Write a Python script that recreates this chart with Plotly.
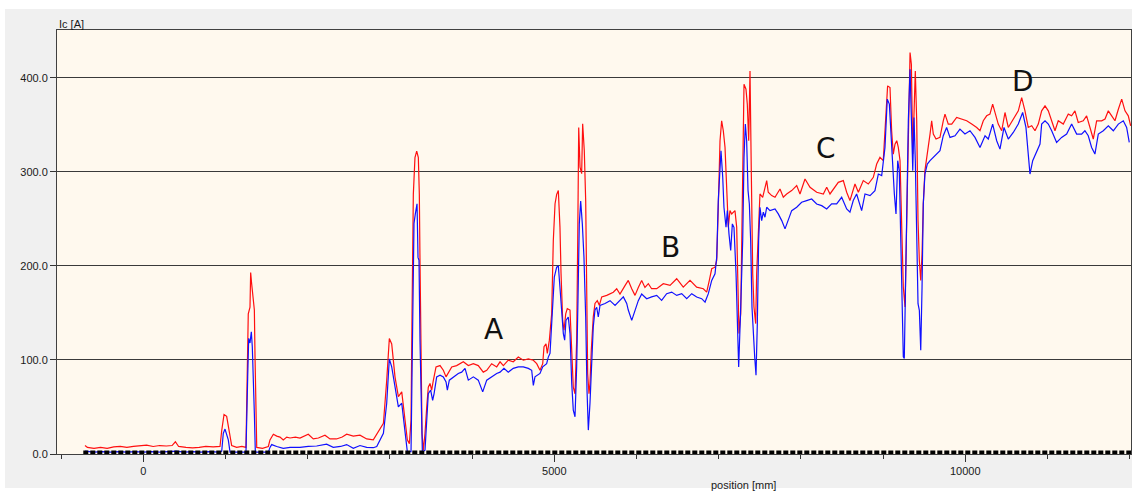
import plotly.graph_objects as go

# ---------------- data ----------------
red_pos = [-709, -680, -600, -520, -440, -360, -280, -200, -120, -40, 40, 120, 200, 280, 350, 390, 430, 520, 600, 680, 760, 850, 933,
           954, 982, 1014, 1046, 1075, 1136, 1200, 1249,
           1266, 1277, 1298, 1306, 1318, 1331, 1351, 1359, 1371, 1380,
           1450, 1521, 1541, 1582, 1623, 1663, 1703, 1745, 1785, 1850, 1906, 1960, 2007, 2068, 2130, 2210, 2271, 2350, 2420, 2474,
           2555, 2636, 2718, 2798, 2850, 2900, 2921, 2961, 2993, 3022, 3062, 3103, 3144, 3184, 3212, 3237, 3257, 3269, 3285, 3305,
           3326, 3346, 3358, 3366, 3378, 3391, 3407, 3427, 3448, 3467, 3488, 3508, 3528, 3561, 3610, 3650, 3683, 3711, 3752, 3812,
           3853, 3893, 3954, 4015, 4075, 4136, 4178, 4238, 4299, 4340, 4380, 4440, 4501, 4562, 4623, 4684, 4745, 4786, 4826, 4859,
           4875, 4899, 4915, 4940, 4968, 4988, 5009, 5029, 5049, 5069, 5082, 5102, 5118, 5139, 5158, 5191, 5212, 5231, 5252, 5272,
           5285, 5297, 5313, 5333, 5345, 5365, 5382, 5394, 5406, 5422, 5434, 5450, 5474, 5495, 5523, 5548, 5577, 5638, 5718, 5759,
           5799, 5860, 5900, 5942, 5982, 6022, 6063, 6103, 6144, 6184, 6246, 6326, 6408, 6489, 6569, 6651, 6732, 6813, 6854, 6886,
           6915, 6955, 6976, 6995, 7016, 7036, 7056, 7077, 7097, 7117, 7137, 7158, 7198, 7219, 7231, 7247, 7268, 7287, 7308, 7332,
           7348, 7365, 7381, 7397, 7414, 7429, 7450, 7462, 7482, 7502, 7535, 7563, 7584, 7603, 7645, 7685, 7746, 7786, 7827, 7888,
           7949, 7989, 8050, 8111, 8192, 8273, 8314, 8354, 8415, 8455, 8516, 8557, 8597, 8658, 8699, 8759, 8820, 8881, 8922, 8962,
           9002, 9035, 9055, 9084, 9104, 9124, 9145, 9166, 9185, 9206, 9226, 9246, 9267, 9287, 9307, 9328, 9344, 9361, 9376, 9392,
           9409, 9425, 9441, 9458, 9474, 9489, 9509, 9538, 9571, 9591, 9611, 9644, 9692, 9732, 9753, 9793, 9835, 9895, 9956, 10017,
           10078, 10139, 10179, 10219, 10260, 10300, 10333, 10361, 10401, 10443, 10483, 10523, 10584, 10645, 10686, 10726, 10766,
           10808, 10848, 10888, 10929, 10970, 11010, 11051, 11091, 11131, 11192, 11253, 11294, 11334, 11374, 11435, 11476, 11517,
           11557, 11598, 11659, 11700, 11740, 11781, 11821, 11862, 11903, 11943, 11983, 12012]
red_ic = [9, 7, 6, 7, 6, 7.5, 8, 7, 8, 9, 9.5, 8, 9, 8.5, 9, 13, 8, 7, 6.5, 7, 8, 7.5, 8,
          25, 42, 40, 25, 9, 7, 8, 7,
          86, 149, 156, 193, 181, 170, 153, 103, 43, 7,
          6, 8, 15, 21, 19, 18, 15, 18, 17, 18, 17, 19, 21, 16, 17, 20, 16, 16, 18, 21,
          19, 20, 16, 15, 22, 29, 32.5, 78, 122.7, 117, 82, 61, 66, 36, 15, 11, 36, 146, 276, 315,
          322, 315, 276, 206, 121, 22, 4, 22, 50, 71, 75, 68, 78, 92.6, 94, 89, 82, 87, 92.6, 94,
          96, 98, 94, 96, 94, 87, 89, 96, 92.6, 98, 94, 99.7, 98, 103, 99.7, 101, 99.7, 96, 89, 96,
          114, 117, 107, 121, 149, 227, 266, 276, 280, 241, 192, 142, 131.5, 149, 154.5, 153, 110, 71, 64, 121,
          227, 347, 305, 298, 351, 322, 269, 181, 85.6, 64, 75, 110, 145.6, 160, 163, 158, 167, 168.6, 172, 175.7,
          170, 179, 184.5, 175.7, 168.6, 177, 184.5, 177, 181, 175.7, 175.7, 181, 179.2, 186.3, 177.4, 184.5, 177.4, 175.7, 172.1, 184.5,
          196.9, 198.6, 205.7, 262.3, 333, 354.2, 343.6, 325.9, 272.9, 241, 258.7, 255.2, 258.7, 241, 191.6, 128, 149.2, 262.3, 393.1, 387.8,
          371.9, 333, 407.2, 297.6, 191.6, 156.2, 138.6, 191.6, 241, 276.4, 272.9, 283.5, 290.6, 278.2, 274.7, 272.9, 281.7, 272.9, 276.4, 280,
          285.3, 276.4, 292.3, 283.5, 278.2, 276.4, 283.5, 276.4, 283.5, 288.8, 290.6, 278.2, 269.4, 287, 278.2, 290.6, 287, 294.1, 308.2, 315.3,
          311.8, 357.7, 391.3, 389.5, 343.6, 318.8, 329.4, 333, 325.9, 311.8, 237.5, 177.4, 156.2, 248.1, 354.2, 426.7, 414.3, 318.8, 361.3, 407.2,
          354.2, 248.1, 205.7, 184.5, 212.8, 265.8, 301.2, 322.4, 340.1, 354.2, 340.1, 334.8, 336.5, 354.2, 361.3, 350.7, 350.7, 357.7, 356, 354.2,
          350.7, 347.1, 343.6, 354.2, 359.5, 361.3, 371.9, 363, 350.7, 343.6, 363, 347.1, 356, 364.8, 378.9, 364.8, 347.1,
          348.9, 343.6, 350.7, 364.8, 370.1, 364.8, 354.2, 343.6, 354.2, 350.7, 361.3, 359.5, 364.8, 352.4, 354.2, 359.5, 347.1,
          334.8, 354.2, 354.2, 356, 364.8, 359.5, 354.2, 366.5, 377.2, 364.8, 359.5, 348.9]

blue_pos = [-709, -600, -500, -400, -300, -200, -100, 0, 100, 200, 300, 400, 500, 600, 700, 800, 933,
            954, 973, 994, 1034, 1055, 1136, 1249,
            1270, 1282, 1298, 1314, 1326, 1339, 1351, 1363,
            1450, 1521, 1541, 1562, 1623, 1703, 1785, 1906, 2007, 2109, 2230, 2311, 2400, 2474, 2555, 2636, 2718, 2798, 2840,
            2880, 2921, 2961, 2993, 3022, 3062, 3103, 3144, 3184, 3212, 3257, 3277, 3293, 3309, 3330, 3342, 3354, 3366, 3383,
            3395, 3427, 3448, 3467, 3496, 3520, 3537, 3569, 3610, 3650, 3683, 3699, 3723, 3771, 3832, 3873, 3914, 3954, 4015,
            4075, 4129, 4178, 4238, 4299, 4340, 4388, 4440, 4501, 4562, 4623, 4684, 4725, 4745, 4765, 4826, 4859, 4907, 4927,
            4948, 4980, 5000, 5029, 5049, 5069, 5090, 5110, 5126, 5142, 5170, 5191, 5212, 5231, 5252, 5272, 5288, 5304, 5321,
            5341, 5361, 5382, 5398, 5414, 5434, 5455, 5474, 5495, 5516, 5535, 5556, 5617, 5678, 5739, 5799, 5840, 5881, 5900,
            5942, 5982, 6022, 6063, 6124, 6184, 6246, 6306, 6367, 6428, 6489, 6550, 6611, 6672, 6732, 6793, 6834, 6874, 6915,
            6955, 6976, 6995, 7016, 7028, 7049, 7064, 7089, 7105, 7125, 7146, 7166, 7186, 7211, 7227, 7243, 7268, 7292, 7308,
            7324, 7340, 7357, 7373, 7389, 7405, 7421, 7438, 7454, 7470, 7486, 7502, 7523, 7543, 7563, 7584, 7624, 7685, 7725,
            7767, 7807, 7847, 7888, 7949, 8009, 8070, 8131, 8192, 8253, 8314, 8374, 8435, 8496, 8557, 8597, 8637, 8678, 8739,
            8780, 8841, 8901, 8942, 8983, 9023, 9051, 9076, 9096, 9113, 9137, 9157, 9178, 9197, 9214, 9230, 9246, 9258, 9275,
            9291, 9307, 9328, 9344, 9361, 9376, 9392, 9409, 9425, 9441, 9458, 9474, 9489, 9509, 9538, 9571, 9611, 9652, 9692,
            9732, 9773, 9814, 9875, 9935, 9996, 10057, 10118, 10179, 10240, 10280, 10333, 10382, 10422, 10471, 10523, 10584,
            10645, 10698, 10738, 10766, 10787, 10820, 10869, 10909, 10929, 10970, 11010, 11051, 11111, 11172, 11233, 11294,
            11355, 11415, 11455, 11496, 11537, 11577, 11618, 11679, 11740, 11801, 11862, 11922, 11963, 11995]
blue_ic = [3, 2, 2.5, 2, 2.5, 2, 2.5, 2, 2.5, 2, 2.5, 3, 2, 2.5, 2, 2.5, 2,
           3, 22, 26.5, 15, 2, 2, 2,
           82, 123, 118, 130, 114, 86, 43, 2,
           2, 2, 7, 10, 8, 6, 7, 7, 8, 8.5, 10.5, 7, 8, 10, 6, 9, 7, 6.7, 8,
           15, 22, 54, 101, 92.6, 71, 50, 54, 22, 2.5, 2.5, 146, 245, 255, 266, 209, 206, 121, 22,
           2, 4, 39.6, 64, 68, 57, 64, 82, 83.8, 82, 76.7, 68, 78.5, 82, 85.6, 87, 91, 78.5, 82,
           78.5, 66, 78.5, 82, 85.6, 87, 91, 87, 91, 92.6, 92.6, 91, 89, 73, 82, 85.6, 92.6, 96, 103,
           107, 163, 188, 198.6, 200, 177, 149, 128, 121, 142, 145.6, 128, 75, 46.7, 39.6, 92.6, 163, 244.6, 269,
           244.6, 209, 145.6, 68, 25.4, 53.8, 92.6, 135, 153, 156, 145.6, 158, 160, 163, 158, 163, 167, 160, 153,
           142, 153, 163, 170, 165, 167, 168.6, 163.3, 170.4, 172.1, 168.6, 170.4, 165.1, 170.4, 166.8, 165.1, 161.5, 170.4, 184.5,
           191.6, 209.3, 269.4, 308.3, 322.4, 294.1, 262.3, 241, 258.7, 234, 216.3, 244.6, 241, 191.6, 128, 92.6, 156.2, 226.9, 315.3,
           350.7, 333, 280, 265.8, 226.9, 156.2, 120.9, 103.2, 83.8, 138.6, 226.9, 262.3, 248.1, 257, 251.7, 262.3, 258.7, 260.5, 255.2,
           248.1, 239.3, 248.1, 258.7, 262.3, 267.6, 269.4, 271.1, 265.8, 264, 260.5, 265.8, 265.8, 272.9, 260.5, 257, 269.4, 276.4, 258.7,
           276.4, 274.7, 280, 297.6, 295.9, 325.9, 377.2, 371.9, 336.5, 311.8, 276.4, 255.2, 311.8, 301.2, 241, 159.8, 103.2, 101.5, 195.1,
           283.5, 354.2, 409, 361.3, 301.2, 357.7, 311.8, 234, 159.8, 152.7, 110.3, 177.4, 265.8, 297.6, 308.2, 311.8, 315.3, 318.8, 322.4,
           338.3, 347.1, 336.5, 338.3, 345.4, 340.1, 343.6, 336.5, 325.9, 338.3, 334.8, 350.7, 333, 324.1, 347.1, 334.8, 341.8,
           350.7, 363, 347.1, 318.8, 297.6, 311.8, 322.4, 329.4, 350.7, 354.2, 350.7, 343.6, 331.2, 336.5, 340.1, 350.7,
           340.1, 340.1, 343.6, 338.3, 325.9, 318.8, 340.1, 343.6, 348.9, 343.6, 350.7, 354.2, 347.1, 331.2]

baseline_pos = [-730, 12030]
baseline_ic = [0, 0]

label_text = ["A", "B", "C", "D"]
label_pos = [4258, 6411, 8309, 10706]
label_ic = [132, 220, 325, 396]

x_major_ticks = [0, 5000, 10000]
y_ticks = [0, 100, 200, 300, 400]

# ---------------- figure ----------------
W, H = 1132, 491
ml, mr, mt, mb = 57, 1, 30, 37
pw, ph = W - ml - mr, H - mt - mb

fig = go.Figure()
fig.add_trace(go.Scatter(x=red_pos, y=red_ic, mode="lines",
                         line=dict(color="#ff1010", width=1.2), showlegend=False))
fig.add_trace(go.Scatter(x=blue_pos, y=blue_ic, mode="lines",
                         line=dict(color="#1010ff", width=1.2), showlegend=False))
fig.add_trace(go.Scatter(x=baseline_pos, y=baseline_ic, mode="lines",
                         line=dict(color="#000000", width=7, dash="5px,2px"), showlegend=False))

for t, xp, yp in zip(label_text, label_pos, label_ic):
    fig.add_annotation(x=xp, y=yp, text=t, showarrow=False,
                       font=dict(family="DejaVu Sans", size=28, color="#111111"))

font_small = dict(family="Liberation Sans, Arial", size=11, color="#1a1a1a")

fig.add_annotation(xref="paper", yref="paper", x=0, y=1, xanchor="left", yanchor="bottom",
                   text="Ic [A]", showarrow=False, font=font_small, yshift=-2)
fig.add_annotation(xref="paper", yref="paper", x=(743 - ml) / pw, y=0, xanchor="center",
                   yanchor="middle", yshift=-31, text="position [mm]", showarrow=False,
                   font=font_small)

# background panels
fig.add_shape(type="rect", xref="paper", yref="paper", layer="below",
              x0=(5 - ml) / pw, x1=(W - ml) / pw,
              y0=-(488 - (H - mb)) / ph, y1=((H - mb) - 9) / ph,
              fillcolor="#f0f0f0", line=dict(width=0))
fig.add_shape(type="rect", xref="paper", yref="paper", layer="below",
              x0=0, x1=1, y0=0, y1=1, fillcolor="#fff9ee", line=dict(width=0))

fig.update_layout(
    width=W, height=H,
    margin=dict(l=ml, r=mr, t=mt, b=mb, pad=0),
    paper_bgcolor="#ffffff",
    plot_bgcolor="rgba(0,0,0,0)",
    showlegend=False,
    font=font_small,
)
fig.update_xaxes(range=[-1050, 12016], tickvals=x_major_ticks, ticktext=[str(v) for v in x_major_ticks],
                 ticks="outside", ticklen=7, tickcolor="#333333", tickwidth=1,
                 minor=dict(dtick=1000, tick0=0, ticks="outside", ticklen=4, tickcolor="#333333", showgrid=False),
                 showgrid=False, zeroline=False,
                 showline=True, linecolor="#404040", linewidth=1, mirror=True,
                 tickfont=font_small)
fig.update_yaxes(range=[0, 450.7], tickvals=y_ticks, tickformat=".1f",
                 ticks="outside", ticklen=6, tickcolor="#333333",
                 showgrid=True, gridcolor="#3a3a3a", gridwidth=1,
                 zeroline=False, showline=True, linecolor="#404040", linewidth=1, mirror=True,
                 tickfont=font_small)

fig.write_html("out.html")
